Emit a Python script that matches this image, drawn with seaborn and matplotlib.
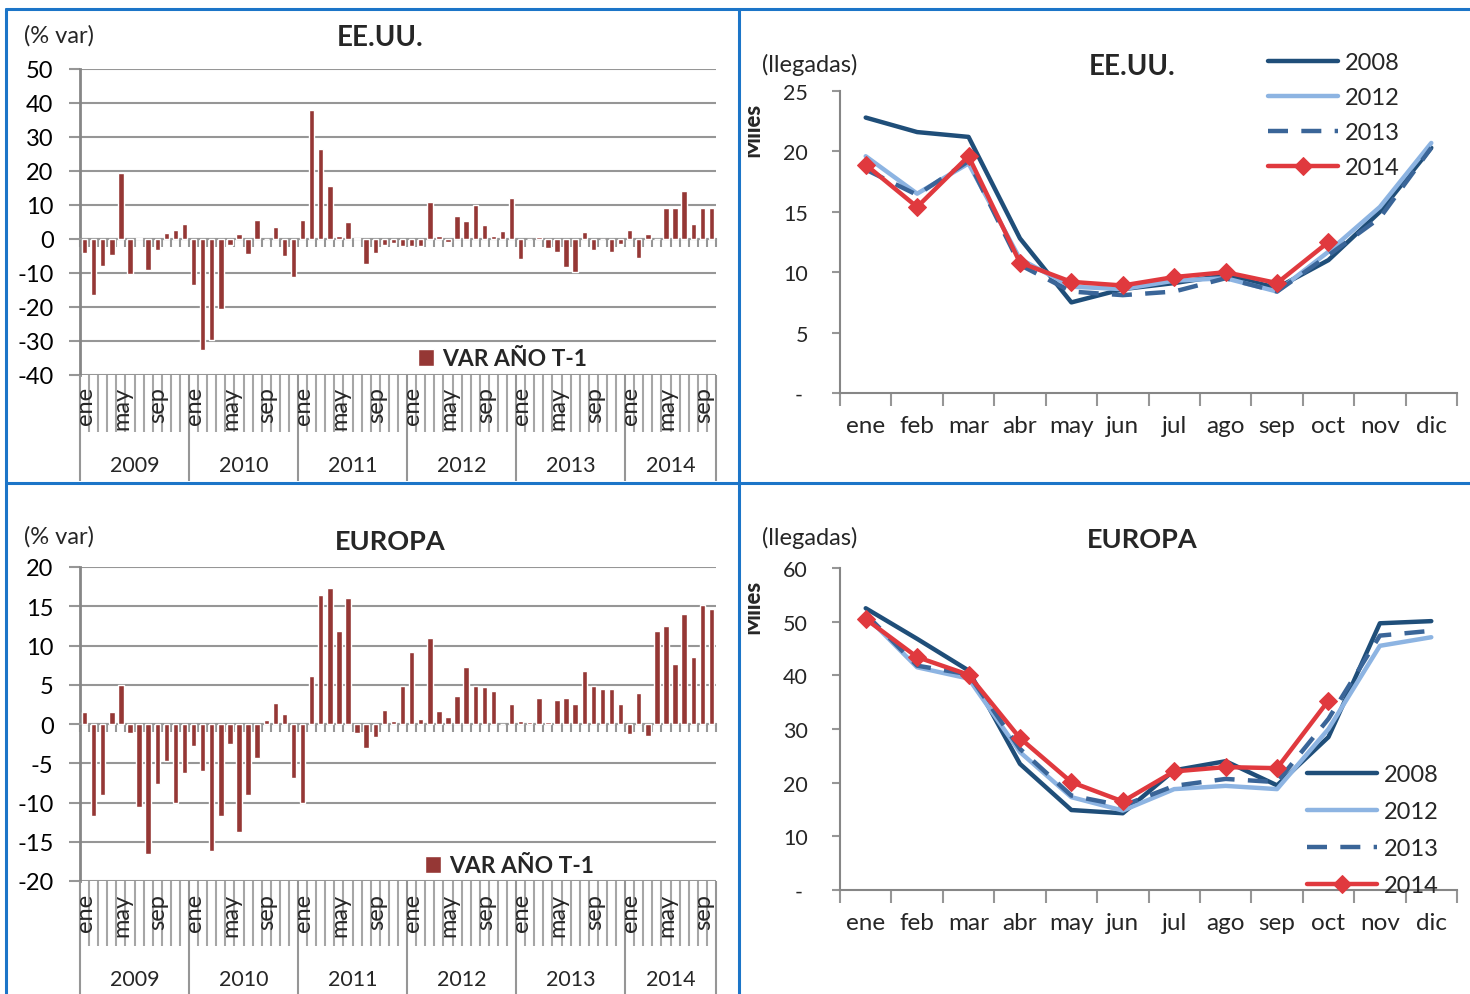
import numpy as np
import pandas as pd
import matplotlib.pyplot as plt
import seaborn as sns
from matplotlib.lines import Line2D
from matplotlib.transforms import Bbox

sns.set_theme(style="white")
plt.rcParams['font.family'] = ['Lato', 'DejaVu Sans']
plt.rcParams['axes.unicode_minus'] = False

# Datos
meses = ['ene', 'feb', 'mar', 'abr', 'may', 'jun', 'jul', 'ago', 'sep', 'oct', 'nov', 'dic']
anios_barras = ['2009', '2010', '2011', '2012', '2013', '2014']
periodos = [f'{a}-{m}' for a in anios_barras for m in meses][:70]

var_eeuu = [-4.2, -16.5, -7.8, -4.6, 19.4, -10.3, 0.3, -9.0, -3.3, 1.8, 2.6, 4.4,
            -13.6, -32.5, -29.7, -20.6, -1.7, 1.4, -4.4, 5.7, 0.1, 3.4, -4.9, -11.2,
            5.7, 37.9, 26.5, 15.6, 0.9, 5.0, 0.2, -7.4, -4.0, -1.7, -1.2, -2.0,
            -2.0, -2.0, 10.8, 0.8, -1.0, 6.7, 5.3, 10.1, 4.2, 0.8, 2.4, 12.0,
            -5.9, 0.1, 0.5, -2.7, -3.9, -8.1, -9.8, 2.1, -3.1, 0.1, -3.9, -1.4,
            2.6, -5.7, 1.4, 0.1, 9.1, 9.0, 14.1, 4.5, 9.2, 9.2]

var_europa = [1.5, -11.7, -9.1, 1.5, 5.0, -1.1, -10.6, -16.6, -7.7, -4.7, -10.0, -6.2,
              -2.8, -6.0, -16.2, -11.7, -2.5, -13.8, -9.0, -4.3, 0.5, 2.7, 1.3, -6.9,
              -10.0, 6.1, 16.4, 17.3, 11.9, 16.1, -1.1, -3.1, -1.6, 1.8, 0.4, 4.9,
              9.2, 0.6, 11.0, 1.6, 0.9, 3.6, 7.2, 4.9, 4.7, 4.2, 0.0, 2.6,
              0.4, 0.3, 3.3, 0.2, 3.0, 3.3, 2.5, 6.8, 4.8, 4.4, 4.4, 2.6,
              -1.3, 3.9, -1.5, 11.9, 12.5, 7.7, 14.0, 8.5, 15.1, 14.6]

eeuu_2008 = [22.8, 21.6, 21.2, 12.8, 7.5, 8.6, 9.1, 9.75, 8.7, 11.0, 15.0, 20.3]
eeuu_2012 = [19.6, 16.5, 19.0, 11.1, 8.8, 8.6, 9.3, 9.5, 8.4, 11.7, 15.4, 20.7]
eeuu_2013 = [18.5, 16.4, 19.2, 10.6, 8.4, 8.1, 8.4, 9.5, 8.4, 11.4, 14.5, 20.3]
eeuu_2014 = [18.9, 15.4, 19.6, 10.8, 9.2, 8.9, 9.6, 10.0, 9.1, 12.5]

europa_2008 = [52.5, 46.8, 40.9, 23.5, 14.9, 14.3, 22.3, 24.0, 19.5, 28.5, 49.7, 50.1]
europa_2012 = [51.1, 41.5, 39.4, 25.7, 17.3, 14.8, 18.8, 19.4, 18.8, 30.0, 45.5, 47.1]
europa_2013 = [51.4, 41.8, 40.2, 26.3, 17.6, 15.7, 19.4, 20.7, 20.1, 31.9, 47.4, 48.3]
europa_2014 = [50.5, 43.4, 40.1, 28.3, 20.1, 16.5, 22.1, 22.9, 22.7, 35.3]

# Estilos
ROJO = '#953735'
GRIS = '#969696'
AZUL_BORDE = '#1C75C8'
estilos = {
    '2008': dict(color='#1F4E79', ls='-', marker=None),
    '2012': dict(color='#8DB4E2', ls='-', marker=None),
    '2013': dict(color='#3A6598', ls=(0, (4.5, 3)), marker=None),
    '2014': dict(color='#E0393E', ls='-', marker='D'),
}

W, H = 1470, 995
fig = plt.figure(figsize=(W / 100, H / 100), dpi=100)


def ejes(x0, y0, x1, y1):
    return fig.add_axes([x0 / W, 1 - y1 / H, (x1 - x0) / W, (y1 - y0) / H])


def texto(x, y, s, **kw):
    return fig.text(x / W, 1 - y / H, s, **kw)


def grafico_barras(caja, caja_lab, valores, ylim, paso, leyenda_xy, tick_y, mes_y, anio_y):
    ax = ejes(*caja)
    df = pd.DataFrame({'periodo': periodos, 'var': valores})
    sns.barplot(data=df, x='periodo', y='var', color=ROJO, saturation=1, width=0.6,
                errorbar=None, ax=ax, label='VAR AÑO T-1', zorder=3)
    n = len(valores)
    ax.set_xlim(-0.5, n - 0.5)
    ax.set_ylim(*ylim)
    ax.set_yticks(np.arange(ylim[0], ylim[1] + 1, paso))
    ax.set_ylabel('')
    ax.set_xlabel('')
    ax.grid(axis='y', color=GRIS, lw=1.5)
    ax.grid(axis='x', visible=False)
    ax.set_axisbelow(True)
    for s in ['top', 'right']:
        ax.spines[s].set_visible(False)
    ax.spines['left'].set_color('#868686')
    ax.spines['left'].set_linewidth(2)
    ax.spines['bottom'].set_position(('data', 0))
    ax.spines['bottom'].set_color(GRIS)
    ax.spines['bottom'].set_linewidth(1.5)
    ax.set_xticks([])
    ax.set_xticks(np.arange(n + 1) - 0.5, minor=True)
    ax.tick_params(axis='x', which='minor', length=6, width=1.5, color=GRIS,
                   direction='out', bottom=True)
    ax.tick_params(axis='y', length=8, width=1.5, color=GRIS, pad=11, labelsize=17,
                   left=True, labelcolor='black')
    ax.set_yticklabels([str(int(v)) for v in ax.get_yticks()])
    ax.legend(loc='center left', bbox_to_anchor=leyenda_xy, frameon=False,
              borderpad=0, borderaxespad=0, handlelength=0.7, handleheight=0.7,
              handletextpad=0.35, prop=dict(size=16.5, weight='bold'))

    # zona de etiquetas (meses y años)
    lab = ejes(*caja_lab)
    lab.set_xlim(-0.5, n - 0.5)
    lab.set_ylim(caja_lab[3], caja_lab[1])
    lab.axis('off')
    for b in np.arange(n + 1) - 0.5:
        if (b + 0.5) % 12 == 0 or b == n - 0.5:
            lab.vlines(b, caja_lab[1], caja_lab[3], color=GRIS, lw=1.5, clip_on=False)
        else:
            lab.vlines(b, caja_lab[1], tick_y, color='#A6A6A6', lw=1.5, clip_on=False)
    for k, anio in enumerate(anios_barras):
        for m in (0, 4, 8):
            i = 12 * k + m
            if i < n:
                lab.text(i + 0.1, mes_y, meses[m], rotation=90, ha='center', va='top',
                         fontsize=17)
        largo = min(12, n - 12 * k)
        lab.text(12 * k + largo / 2 - 0.5, anio_y, anio, ha='center', va='center',
                 fontsize=15.5)
    return ax


def grafico_lineas(caja, series, ylim, paso, leyenda_xy, espacio):
    ax = ejes(*caja)
    for anio, vals in series.items():
        st = estilos[anio]
        sns.lineplot(x=meses[:len(vals)], y=vals, ax=ax, color=st['color'], lw=3.2,
                     linestyle=st['ls'], marker=st['marker'], markersize=9,
                     markeredgecolor=st['color'], label=anio, sort=False)
    ax.set_xlim(-0.5, 11.5)
    ax.set_ylim(*ylim)
    ticks = np.arange(ylim[0], ylim[1] + 1, paso)
    ax.set_yticks(ticks)
    ax.set_yticklabels(['- ' if t == 0 else str(int(t)) for t in ticks])
    ax.set_xticks(range(12))
    ax.set_xticklabels(meses)
    ax.set_xticks(np.arange(13) - 0.5, minor=True)
    ax.tick_params(axis='x', which='major', length=0, pad=16, labelsize=17.5)
    ax.tick_params(axis='x', which='minor', length=9, width=1.5, color=GRIS,
                   direction='out', bottom=True)
    ax.tick_params(axis='y', length=6, width=1.5, color=GRIS, direction='out',
                   left=True, pad=17, labelsize=15.5)
    ax.grid(False)
    for s in ['top', 'right']:
        ax.spines[s].set_visible(False)
    for s in ['left', 'bottom']:
        ax.spines[s].set_color('#868686')
        ax.spines[s].set_linewidth(1.5)
    ax.set_xlabel('')
    ax.set_ylabel('')
    ax.legend(loc='upper left', bbox_to_anchor=leyenda_xy, bbox_transform=fig.transFigure,
              frameon=False, borderpad=0, borderaxespad=0, handlelength=2.95,
              handletextpad=0.3, labelspacing=espacio, fontsize=17)
    return ax


# Paneles de barras
grafico_barras((80, 70, 716, 376), (80, 376, 716, 482), var_eeuu, (-40, 50), 10,
               ((418 - 80) / 636, (376 - 360) / 306), 433, 387, 466)
grafico_barras((80, 568, 716, 882), (80, 882, 716, 995), var_europa, (-20, 20), 5,
               ((425 - 80) / 636, (882 - 867) / 314), 947, 894, 980)

# Paneles de líneas
grafico_lineas((840, 92, 1457, 394),
               {'2008': eeuu_2008, '2012': eeuu_2012, '2013': eeuu_2013, '2014': eeuu_2014},
               (0, 25), 5, (1268 / W, 1 - 53.5 / H), 0.585)
grafico_lineas((840, 569, 1457, 891),
               {'2008': europa_2008, '2012': europa_2012, '2013': europa_2013, '2014': europa_2014},
               (0, 60), 10, (1307 / W, 1 - 765.5 / H), 0.675)

# Textos
texto(24, 36, '(% var)', fontsize=17, va='center')
texto(380, 38, 'EE.UU.', fontsize=20, weight='bold', ha='center', va='center')
texto(762, 65, '(llegadas)', fontsize=17, va='center')
texto(1132, 67, 'EE.UU.', fontsize=20, weight='bold', ha='center', va='center')
texto(24, 537, '(% var)', fontsize=17, va='center')
texto(390, 542, 'EUROPA', fontsize=19.5, weight='bold', ha='center', va='center')
texto(762, 538, '(llegadas)', fontsize=17, va='center')
texto(1142, 540, 'EUROPA', fontsize=19.5, weight='bold', ha='center', va='center')

for yc in (130, 607):
    t = texto(753, yc, 'Miles', fontsize=16, weight='black', rotation=90,
              ha='center', va='center')
    t.set_clip_box(Bbox([[748, 0], [W, H]]))
    t.set_clip_on(True)

# Bordes azules
for xs, ys in [((6, 6), (10, H)), ((6, W), (10, 10)), ((739, 739), (10, H)), ((6, W), (484, 484))]:
    fig.add_artist(Line2D([x / W for x in xs], [1 - y / H for y in ys],
                          transform=fig.transFigure, color=AZUL_BORDE, lw=2.2))

fig.savefig('out.png', dpi=100)
